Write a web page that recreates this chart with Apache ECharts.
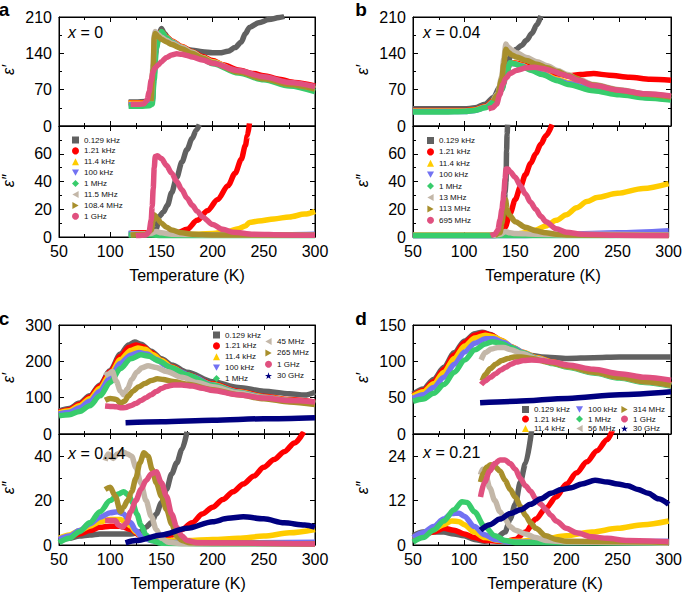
<!DOCTYPE html>
<html><head><meta charset="utf-8">
<script src="https://cdn.jsdelivr.net/npm/echarts@6/dist/echarts.min.js"></script>
<style>html,body{margin:0;padding:0;background:#fff}#c{width:685px;height:592px}</style>
</head><body><div id="c"></div><script>
// ---------------- DATA (temperature K, value) ----------------
const tempTicks = [50, 100, 150, 200, 250, 300];
// Panel a, x = 0 : eps'
const aT_0129kHz = [[118,46],[125,46],[135,47],[140,50],[142,90],[144,140],[147,172],[150,188],[153,178],[157,168],[162,158],[170,150],[180,146],[190,143],[200,141],[207,141],[215,144],[222,151],[228,162],[232,178],[236,190],[245,199],[255,205],[265,209],[270,211]];
const aT_121kHz = [[118,45],[130,45],[138,46],[141,50],[143,110],[145,160],[148,178],[150,182],[155,172],[160,164],[170,153],[180,143],[190,134],[200,126],[210,118],[225,108],[240,101],[250,97],[265,90],[280,84],[300,77]];
const aT_114kHz = [[118,44],[130,44],[138,45],[141,50],[143,110],[145,160],[148,177],[150,181],[155,171],[160,163],[170,152],[180,142],[190,132],[200,124],[225,105],[250,93],[275,82],[300,73]];
const aT_100kHz = [[118,41],[130,41],[138,42],[141,46],[143,100],[145,155],[148,175],[150,180],[155,170],[160,162],[170,151],[180,141],[190,131],[200,122],[225,104],[250,91],[275,80],[300,70]];
const aT_1MHz = [[118,38],[130,38],[138,39],[141,42],[143,90],[145,150],[148,174],[150,182],[155,170],[160,161],[170,150],[180,139],[190,129],[200,120],[225,102],[250,89],[275,77],[300,66]];
const aT_115MHz = [[140,48],[142,120],[143,175],[144,182],[147,176],[150,171],[155,165],[160,160],[170,151],[180,142],[190,132],[200,123],[225,105],[250,92],[275,81],[300,72]];
const aT_1084MHz = [[140,48],[142,110],[143,170],[144,178],[147,172],[150,167],[155,162],[160,157],[170,149],[180,140],[190,131],[200,122],[225,104],[250,91],[275,80],[300,71]];
const aT_1GHz = [[120,42],[128,42],[133,43],[136,50],[138,65],[140,88],[142,105],[144,112],[147,118],[150,124],[155,132],[160,137],[165,139],[170,138],[175,136],[180,133],[190,127],[200,121],[225,107],[250,95],[275,84],[300,76]];
// Panel a : eps''
const aB_0129kHz = [[118,2.5],[130,2.5],[140,3],[145,6],[148,15],[152,18],[156,23],[160,32],[165,43],[170,54],[175,63],[180,71],[184,77],[187,81]];
const aB_121kHz = [[120,3],[135,3],[145,2.5],[155,2],[165,3],[175,5.5],[185,12],[195,19],[205,27],[215,37],[222,46],[228,56],[232,66],[234,73],[236,82]];
const aB_114kHz = [[120,2],[150,2],[180,2],[200,2.5],[215,4],[225,6],[232,8],[236,10.5],[245,11.5],[260,13],[275,14.5],[290,16.5],[300,18.5]];
const aB_100kHz = [[118,2.5],[150,2],[200,1.5],[250,1.5],[300,2]];
const aB_1MHz = [[118,1.5],[140,1.5],[150,1],[200,1],[300,1]];
const aB_115MHz = [[120,2],[140,2.5],[145,4],[150,3],[160,2],[200,1.5],[300,1.5]];
const aB_1084MHz = [[120,1.5],[135,2],[140,5],[143,16],[146,13],[150,10],[155,7],[160,5],[170,3],[180,2],[200,1.5],[300,1.2]];
const aB_1GHz = [[125,1],[135,1.5],[138,4],[140,12],[141,22],[142,35],[143,50],[144,58],[146,58.5],[150,56.5],[155,51.5],[160,46],[165,40],[170,34],[175,28],[180,23],[185,18.5],[190,14.5],[200,9],[210,5.5],[220,3.5],[240,2],[270,1.5],[300,1.2]];
// Panel b, x = 0.04 : eps'
const bT_0129kHz = [[50,33],[80,33],[100,33],[110,35],[120,42],[128,55],[134,75],[138,100],[142,125],[146,140],[150,148],[155,155],[160,165],[165,178],[170,195],[174,212]];
const bT_121kHz = [[50,30],[100,30],[110,32],[120,38],[130,52],[136,75],[140,100],[144,120],[148,122],[155,119],[165,113],[175,107],[190,100],[200,97],[212,99],[225,101],[240,98],[260,94],[280,90],[300,88]];
const bT_114kHz = [[50,29],[100,29],[110,31],[120,37],[130,50],[136,72],[140,98],[144,120],[148,121],[155,117],[165,110],[175,102],[190,90],[200,84],[225,72],[250,63],[275,56],[300,52]];
const bT_100kHz = [[50,28],[100,28],[110,30],[120,36],[130,49],[136,72],[140,97],[144,121],[148,120],[155,116],[165,108],[175,100],[190,88],[200,82],[225,70],[250,62],[275,55],[300,51]];
const bT_1MHz = [[50,27],[80,27],[100,28],[110,30],[120,35],[130,48],[136,70],[140,95],[144,122],[148,120],[155,115],[165,107],[175,99],[190,87],[200,80],[225,68],[250,60],[275,54],[300,50]];
const bT_13MHz = [[128,50],[132,62],[136,95],[138,130],[140,158],[142,152],[146,146],[150,141],[160,132],[170,124],[180,116],[190,107],[200,99],[210,90],[225,80],[250,70],[275,62],[300,57]];
const bT_113MHz = [[128,48],[132,60],[136,90],[138,120],[140,148],[142,142],[146,137],[150,133],[160,126],[170,119],[180,112],[190,105],[200,97],[225,79],[250,69],[275,61],[300,56]];
const bT_695MHz = [[123,33],[127,35],[131,42],[134,60],[137,80],[140,92],[144,101],[150,107],[160,112],[168,113],[175,111],[185,106],[195,99],[200,96],[210,88],[225,78],[250,69],[275,62],[300,58]];
// Panel b : eps''
const bB_0129kHz = [[50,1],[100,1],[130,1],[137,3],[139,12],[140,32],[141,40],[141.5,62],[142,74],[142.5,81]];
const bB_121kHz = [[137,2],[140,7],[145,17],[150,27],[155,36],[160,45],[165,53],[170,60],[175,67],[180,73],[186,81]];
const bB_114kHz = [[50,1.5],[140,1.5],[150,2],[160,3],[170,5],[180,8],[190,12],[200,16],[210,21],[220,25.5],[230,28.5],[250,31.5],[275,35],[300,38.5]];
const bB_100kHz = [[50,1],[150,1],[200,2],[250,3],[300,4.5]];
const bB_1MHz = [[50,1],[150,1],[200,1],[300,1.5]];
const bB_13MHz = [[128,1],[136,2],[140,4],[145,3],[150,2.5],[170,2],[200,1.5],[225,2],[300,1.5]];
const bB_113MHz = [[130,1],[135,3],[137,10],[139,22],[140.5,27],[142,20],[144,16],[150,11],[160,7],[170,4.5],[180,3],[190,2],[200,1.5],[300,1]];
const bB_695MHz = [[126,1],[130,2],[133,5],[135,12],[137,20],[138,26],[139,33],[140,42],[141,49],[143,49],[145,47],[150,43],[155,37],[160,31],[165,25],[170,20],[175,15],[180,11],[190,6],[200,3.5],[215,2],[250,1.2],[300,1]];
// Panel c, x = 0.14 : eps'
const cT_0129kHz = [[50,63],[60,70],[70,85],[80,105],[90,135],[100,175],[110,220],[118,245],[124,253],[130,247],[140,228],[150,207],[160,190],[175,170],[200,144],[225,128],[250,118],[275,111],[290,107],[300,115]];
const cT_121kHz = [[50,60],[60,67],[70,82],[80,102],[90,132],[100,172],[110,214],[118,238],[125,245],[132,240],[140,224],[150,203],[160,185],[175,164],[200,138],[225,118],[250,104],[275,95],[300,88]];
const cT_114kHz = [[50,58],[60,64],[70,78],[80,97],[90,126],[100,164],[110,205],[120,230],[127,237],[134,233],[142,218],[150,202],[160,184],[175,162],[200,136],[225,116],[250,102],[275,93],[300,86]];
const cT_100kHz = [[50,55],[60,60],[70,72],[80,90],[90,118],[100,155],[110,195],[120,217],[128,224],[136,220],[145,205],[155,188],[165,175],[180,158],[200,135],[225,115],[250,101],[275,92],[300,85]];
const cT_1MHz = [[50,50],[60,53],[70,62],[80,78],[90,105],[100,142],[110,180],[120,207],[130,218],[138,214],[148,200],[160,182],[175,163],[200,134],[225,114],[250,100],[275,91],[300,84]];
const cT_45MHz = [[95,160],[98,165],[102,172],[106,145],[110,118],[113,108],[117,125],[121,150],[126,170],[131,182],[137,188],[145,183],[155,172],[170,156],[185,142],[200,130],[225,113],[250,100],[275,91],[300,84]];
const cT_265MHz = [[95,93],[100,98],[106,95],[110,85],[114,90],[118,105],[122,118],[128,130],[134,139],[140,147],[146,152],[152,150],[160,145],[175,137],[200,122],[225,108],[250,97],[275,88],[300,81]];
const cT_1GHz = [[95,77],[100,76],[106,75],[110,72],[115,73],[120,78],[125,84],[130,92],[135,100],[140,108],[145,117],[150,125],[155,131],[162,135],[170,135],[180,132],[190,126],[200,120],[225,108],[250,99],[275,92],[300,88]];
const cT_30GHz = [[115,31],[150,34],[200,38],[250,42],[300,45]];
// Panel c : eps''
const cB_0129kHz = [[50,2],[60,3],[70,4],[80,4.5],[90,5],[100,5],[110,5],[120,5],[130,6],[135,8],[140,10],[145,14],[150,19],[155,25],[160,32],[165,37],[170,43],[175,51]];
const cB_121kHz = [[50,2.5],[60,3.5],[70,5],[80,6.5],[90,8],[100,8.5],[110,8.5],[120,7],[130,4],[140,3],[150,3.5],[160,4.5],[170,7],[180,10],[190,14],[200,17],[210,20.5],[220,24],[230,27.5],[240,31],[250,35],[260,38.5],[270,42],[280,46],[289,51]];
const cB_114kHz = [[50,3],[60,4.5],[70,6.5],[80,8.5],[90,10.5],[100,11.5],[110,11.5],[115,10.5],[120,8.5],[125,6],[130,4],[140,2.5],[150,2],[175,2],[200,2.5],[225,3],[250,4],[275,5.5],[300,7]];
const cB_100kHz = [[50,2.5],[60,4],[70,6.5],[80,9.5],[90,12.5],[100,14.5],[107,15],[113,14],[120,10],[125,6.5],[130,4],[140,2],[150,1.2],[200,1],[300,1.2]];
const cB_1MHz = [[50,1],[60,3],[70,6],[80,10],[90,15],[100,20],[108,23],[113,24],[118,22.5],[122,19],[126,14],[130,9],[135,4.5],[140,2],[150,0.8],[200,0.5],[300,0.5]];
const cB_45MHz = [[95,38],[98,41],[103,39],[107,41],[112,42],[117,41],[121,40],[125,35],[130,28],[135,20],[140,13],[145,7],[150,3],[157,1.2],[170,0.6],[300,0.5]];
const cB_265MHz = [[95,25],[100,26],[105,22],[110,15],[113,17],[117,20],[121,24],[125,30],[129,37],[133,41.5],[137,40],[141,34],[145,28],[150,22],[155,16],[160,9.5],[165,4],[170,2],[178,1],[300,0.5]];
const cB_1GHz = [[95,11],[100,11],[105,11],[108,9],[112,8],[116,10],[120,15],[125,20],[130,25],[135,29],[140,32],[145,33],[150,28],[155,22],[160,14],[165,8],[170,4],[175,2],[185,1],[300,0.5]];
const cB_30GHz = [[115,1],[125,2],[150,4.5],[175,7.5],[200,10.5],[215,12],[230,12.7],[250,11.8],[270,10],[290,9],[300,8]];
// Panel d, x = 0.21 : eps'
const dT_0129kHz = [[50,55],[60,62],[70,75],[80,92],[90,112],[100,128],[110,138],[117,140],[125,137],[135,128],[145,118],[155,111],[165,108],[175,106],[200,104],[225,105],[250,106],[275,106],[300,106]];
const dT_121kHz = [[50,53],[60,60],[70,72],[80,89],[90,109],[100,126],[110,136],[118,139],[126,136],[135,129],[145,120],[155,113],[170,105],[185,99],[200,94],[225,87],[250,80],[275,74],[300,69]];
const dT_114kHz = [[50,52],[60,58],[70,69],[80,85],[90,104],[100,121],[110,132],[120,136],[128,134],[137,128],[147,119],[157,112],[170,105],[185,99],[200,94],[225,86],[250,79],[275,73],[300,68]];
const dT_100kHz = [[50,49],[60,54],[70,64],[80,78],[90,96],[100,113],[110,125],[120,131],[128,131],[138,126],[148,118],[158,111],[170,104],[185,98],[200,93],[225,85],[250,78],[275,72],[300,67]];
const dT_1MHz = [[50,45],[60,48],[70,56],[80,68],[90,85],[100,102],[110,116],[120,124],[127,127],[135,125],[145,119],[155,112],[170,104],[185,97],[200,92],[225,84],[250,77],[275,71],[300,66]];
const dT_56MHz = [[116,102],[120,112],[126,117],[132,119],[138,119],[145,116],[155,111],[170,104],[185,98],[200,93],[225,85],[250,78],[275,72],[300,67]];
const dT_314MHz = [[117,73],[120,82],[125,90],[130,96],[136,101],[142,104],[148,106],[155,106],[165,104],[180,99],[200,93],[225,85],[250,78],[275,72],[300,67]];
const dT_1GHz = [[116,68],[120,73],[125,78],[130,83],[135,88],[140,92],[145,96],[150,99],[157,101],[165,102],[175,101],[185,99],[200,95],[225,89],[250,83],[275,78],[300,74]];
const dT_30GHz = [[115,43],[150,45],[200,49],[250,54],[300,58]];
// Panel d : eps''
const dB_0129kHz = [[50,2.5],[60,3.5],[70,3.5],[80,3.5],[90,3],[100,2.5],[110,1.5],[120,1],[130,1.5],[140,3.5],[145,7],[150,11],[155,17],[160,22],[166,31]];
const dB_121kHz = [[50,2],[60,2.8],[70,3.5],[80,4.5],[90,4],[100,3],[110,2],[120,1.2],[140,1],[150,1.5],[160,3.5],[170,7],[180,10],[190,13],[200,16.5],[210,19.5],[220,22.5],[230,25.5],[240,28.5],[245,31]];
const dB_114kHz = [[50,2],[60,3],[70,4.2],[80,5.5],[88,6.5],[95,6.3],[100,5.5],[110,3.5],[120,2],[135,1.2],[150,1],[175,1.5],[200,2.5],[225,3.5],[250,4.5],[275,5.5],[300,6.5]];
const dB_100kHz = [[50,2],[60,3.3],[70,5],[80,7],[88,8.5],[95,8.6],[100,7.8],[110,5],[120,2.8],[130,1.5],[145,0.8],[200,0.7],[300,1]];
const dB_1MHz = [[50,0.8],[60,2],[70,4],[80,6.5],[90,9.5],[98,11.7],[103,11.5],[110,9],[120,5],[130,2.5],[140,1.2],[150,0.7],[300,0.5]];
const dB_56MHz = [[116,19],[118,20.5],[121,19],[125,15.5],[130,12],[135,9],[140,7],[145,5],[150,4],[160,3],[170,2],[180,1.2],[200,0.8],[300,0.5]];
const dB_314MHz = [[116,17],[119,19.5],[122,21],[126,21.7],[130,21.2],[135,20],[140,17.5],[145,15],[150,13],[155,10.5],[160,8],[165,6],[170,4.5],[180,2.5],[190,1.5],[200,1],[300,0.7]];
const dB_1GHz = [[116,13],[120,17],[125,20],[130,22],[135,23],[140,23],[145,22],[150,20.5],[155,18],[160,16],[165,14.5],[170,12.5],[175,11],[180,9.5],[185,8],[190,6.5],[200,4.5],[210,3.3],[225,2.2],[240,1.8],[260,1.2],[300,0.9]];
const dB_30GHz = [[116,4],[125,5.5],[135,7],[145,8.5],[155,9.5],[165,11],[175,12.5],[185,14],[195,15],[205,15.5],[215,16.5],[228,17.5],[240,17],[250,16.5],[260,16],[270,15],[280,14],[290,12.5],[300,11]];

// ---------------- STYLE ----------------
const FONT = '"Liberation Sans", Arial, Helvetica, sans-serif';
const COL = {gray:'#616161', red:'#ff0000', yellow:'#ffcc00', blue:'#7272f2', green:'#38cc6c',
             tan:'#c3b7a8', olive:'#a88f2c', pink:'#e0507f', navy:'#000080'};
const ICON = {sq:'rect', ci:'circle', tu:'triangle', td:'path://M0,0L10,0L5,9Z', di:'diamond',
  tl:'path://M9,0L9,10L0,5Z', tr:'path://M0,0L9,5L0,10Z',
  st:'path://M5,0L6.18,3.45L9.76,3.45L6.9,5.6L7.94,9.05L5,6.9L2.06,9.05L3.1,5.6L0.24,3.45L3.82,3.45Z'};

// [name, color, icon, top data, bottom data]
const panelSeries = [
  [['0.129 kHz','gray','sq',aT_0129kHz,aB_0129kHz],['1.21 kHz','red','ci',aT_121kHz,aB_121kHz],['11.4 kHz','yellow','tu',aT_114kHz,aB_114kHz],['100 kHz','blue','td',aT_100kHz,aB_100kHz],['1 MHz','green','di',aT_1MHz,aB_1MHz],['11.5 MHz','tan','tl',aT_115MHz,aB_115MHz],['108.4 MHz','olive','tr',aT_1084MHz,aB_1084MHz],['1 GHz','pink','ci',aT_1GHz,aB_1GHz]],
  [['0.129 kHz','gray','sq',bT_0129kHz,bB_0129kHz],['1.21 kHz','red','ci',bT_121kHz,bB_121kHz],['11.4 kHz','yellow','tu',bT_114kHz,bB_114kHz],['100 kHz','blue','td',bT_100kHz,bB_100kHz],['1 MHz','green','di',bT_1MHz,bB_1MHz],['13 MHz','tan','tl',bT_13MHz,bB_13MHz],['113 MHz','olive','tr',bT_113MHz,bB_113MHz],['695 MHz','pink','ci',bT_695MHz,bB_695MHz]],
  [['0.129 kHz','gray','sq',cT_0129kHz,cB_0129kHz],['1.21 kHz','red','ci',cT_121kHz,cB_121kHz],['11.4 kHz','yellow','tu',cT_114kHz,cB_114kHz],['100 kHz','blue','td',cT_100kHz,cB_100kHz],['1 MHz','green','di',cT_1MHz,cB_1MHz],['45 MHz','tan','tl',cT_45MHz,cB_45MHz],['265 MHz','olive','tr',cT_265MHz,cB_265MHz],['1 GHz','pink','ci',cT_1GHz,cB_1GHz],['30 GHz','navy','st',cT_30GHz,cB_30GHz]],
  [['0.129 kHz','gray','sq',dT_0129kHz,dB_0129kHz],['1.21 kHz','red','ci',dT_121kHz,dB_121kHz],['11.4 kHz','yellow','tu',dT_114kHz,dB_114kHz],['100 kHz','blue','td',dT_100kHz,dB_100kHz],['1 MHz','green','di',dT_1MHz,dB_1MHz],['56 MHz','tan','tl',dT_56MHz,dB_56MHz],['314 MHz','olive','tr',dT_314MHz,dB_314MHz],['1 GHz','pink','ci',dT_1GHz,dB_1GHz],['30 GHz','navy','st',dT_30GHz,dB_30GHz]]
];
const compositions = ['0', '0.04', '0.14', '0.21'];
const letters = ['a', 'b', 'c', 'd'];

// layout
const GRIDS = [
  {left:59, top:17, width:256, height:109}, {left:59, top:126, width:256, height:111},
  {left:413, top:17, width:258, height:109}, {left:413, top:126, width:258, height:111},
  {left:59, top:325, width:256, height:109}, {left:59, top:434, width:256, height:111},
  {left:413, top:325, width:258, height:109}, {left:413, top:434, width:258, height:111}
];
const YSCALE = [[210,70],[80,20],[210,70],[80,20],[300,100],[50,20],[150,50],[30,12]];

const xAxis = [], yAxis = [], grid = [], series = [];
GRIDS.forEach((g, gi) => {
  grid.push(Object.assign({show:true, borderColor:'#000', borderWidth:1, backgroundColor:'#fff', containLabel:false}, g));
  const isBottom = gi % 2 === 1;
  const tick = {show:true, inside:true, length:5, lineStyle:{color:'#000', width:1}};
  const minor = {show:true, splitNumber:2, length:3, lineStyle:{color:'#000', width:1}};
  ['bottom','top'].forEach((pos, k) => {
    xAxis.push({type:'value', gridIndex:gi, position:pos, min:tempTicks[0], max:tempTicks[tempTicks.length-1], interval:50,
      axisLine:{show:true, onZero:false, lineStyle:{color:'#000', width:1}}, axisTick:tick, minorTick:minor, splitLine:{show:false},
      axisLabel:{show: isBottom && k === 0, color:'#000', fontSize:16, fontFamily:FONT, margin:6}});
  });
  ['left','right'].forEach((pos, k) => {
    yAxis.push({type:'value', gridIndex:gi, position:pos, min:0, max:YSCALE[gi][0], interval:YSCALE[gi][1],
      axisLine:{show:true, onZero:false, lineStyle:{color:'#000', width:1}}, axisTick:tick, minorTick:minor, splitLine:{show:false},
      axisLabel:{show:k === 0, color:'#000', fontSize:16, fontFamily:FONT, margin:7, showMaxLabel: !isBottom}});
  });
});

panelSeries.forEach((list, p) => {
  list.forEach(([name, col, icon, top, bot]) => {
    [top, bot].forEach((data, k) => {
      const gi = p * 2 + k;
      series.push({type:'line', name, xAxisIndex:gi*2, yAxisIndex:gi*2, data, showSymbol:false, symbol:ICON[icon],
        smooth:0.3, smoothMonotone:'x', silent:true, clip:true,
        lineStyle:{width:5.5, color:COL[col]}, itemStyle:{color:COL[col]}});
    });
  });
});

function legendData(p, names) {
  return names.map(n => { const s = panelSeries[p].find(r => r[0] === n); return {name:n, icon:ICON[s[2]]}; });
}
function mkLegend(left, top, gap, p, names) {
  return {orient:'vertical', left, top, padding:0, itemWidth:7, itemHeight:7, itemGap:gap, selectedMode:false,
    itemStyle:{borderWidth:0}, textStyle:{fontSize:8, fontFamily:FONT, color:'#111', lineHeight:7},
    data:legendData(p, names)};
}
const legend = [
  mkLegend(72, 136, 2.9, 0, panelSeries[0].map(r => r[0])),
  mkLegend(427, 136.5, 3.4, 1, panelSeries[1].map(r => r[0])),
  mkLegend(213, 331, 2.9, 2, ['0.129 kHz','1.21 kHz','11.4 kHz','100 kHz','1 MHz']),
  mkLegend(265, 337.5, 3.4, 2, ['45 MHz','265 MHz','1 GHz','30 GHz']),
  mkLegend(522, 405.5, 1.5, 3, ['0.129 kHz','1.21 kHz','11.4 kHz']),
  mkLegend(576, 405.5, 1.5, 3, ['100 kHz','1 MHz','56 MHz']),
  mkLegend(621, 405.5, 1.5, 3, ['314 MHz','1 GHz','30 GHz'])
];

// text decorations
const graphic = [];
const letterPos = [[4,9],[361,9],[4,318],[361,318]];
const compPos = [[68,32],[423,32],[68,453],[423,452]];
const epsX = [8, 362, 8, 362];
const eps1Y = [70, 70, 378, 378], eps2Y = [181, 181, 488, 488];
const tempPos = [[187,275],[543,275],[188,583],[545,583]];
for (let p = 0; p < 4; p++) {
  graphic.push({type:'text', x:letterPos[p][0], y:letterPos[p][1], silent:true,
    style:{text:letters[p], fontSize:19, fontWeight:'bold', fontFamily:FONT, fill:'#000', align:'center', verticalAlign:'middle'}});
  graphic.push({type:'text', x:compPos[p][0], y:compPos[p][1], silent:true, z:100,
    style:{text:'{i|x}{n| = ' + compositions[p] + '}', fill:'#000', verticalAlign:'middle',
      rich:{i:{fontStyle:'italic', fontSize:16, fontFamily:FONT, fill:'#000'}, n:{fontSize:16, fontFamily:FONT, fill:'#000'}}}});
  graphic.push({type:'text', x:epsX[p], y:eps1Y[p], rotation:Math.PI/2, silent:true,
    style:{text:'\u03b5\u2032', fontSize:16, fontStyle:'italic', fontFamily:FONT, fill:'#000', align:'center', verticalAlign:'middle'}});
  graphic.push({type:'text', x:epsX[p], y:eps2Y[p], rotation:Math.PI/2, silent:true,
    style:{text:'\u03b5\u2033', fontSize:16, fontStyle:'italic', fontFamily:FONT, fill:'#000', align:'center', verticalAlign:'middle'}});
  graphic.push({type:'text', x:tempPos[p][0], y:tempPos[p][1], silent:true,
    style:{text:'Temperature (K)', fontSize:16, fontFamily:FONT, fill:'#000', align:'center', verticalAlign:'middle'}});
}

const chart = echarts.init(document.getElementById('c'), null, {renderer:'svg', width:685, height:592});
chart.setOption({animation:false, backgroundColor:'#fff', grid, xAxis, yAxis, series, legend, graphic});
</script></body></html>
